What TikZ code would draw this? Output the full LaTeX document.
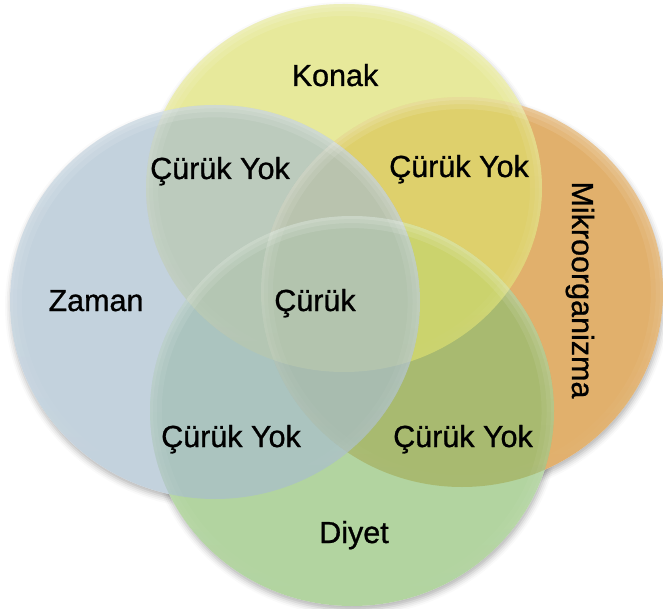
\documentclass[tikz,border=0pt]{standalone}
\usepackage{fontspec}
\setmainfont{Liberation Sans}
\newfontfamily\lblfont{Liberation Sans}[FakeBold=0.9]
\usetikzlibrary{fadings,shadows.blur}

\definecolor{konakC}{RGB}{221,224,109}
\definecolor{mikroC}{RGB}{212,139,39}
\definecolor{diyetC}{RGB}{142,192,115}
\definecolor{zamanC}{RGB}{168,189,206}

\begin{document}
\begin{tikzpicture}[x=1pt,y=-1pt,
  lbl/.style={font=\lblfont\fontsize{30.5}{36}\selectfont, text=black, inner sep=0pt, anchor=base},
  disc/.style={fill=#1, fill opacity=0.68},
  rim/.style={draw=white, draw opacity=0.12, path fading=south},
  shade/.style={blur shadow={shadow xshift=1pt, shadow yshift=-4pt, shadow blur radius=6pt, shadow opacity=30}},
  kshape/.style={x radius=198pt, y radius=184pt},
  mshape/.style={x radius=201pt, y radius=195pt},
  dshape/.style={x radius=202pt, y radius=195pt},
  zshape/.style={x radius=205pt, y radius=197pt}]
\useasboundingbox (0,0) rectangle (663,609);
\begin{scope}
\clip (0,0) rectangle (663,609);

% circle centres
\coordinate (k) at (344,188);
\coordinate (m) at (462,292);
\coordinate (d) at (352,411);
\coordinate (z) at (215,302);

% soft shadows, then a white base so they only show outside the discs
\path[shade] (m) ellipse [mshape];
\path[shade] (d) ellipse [dshape];
\path[shade] (k) ellipse [kshape];
\path[shade] (z) ellipse [zshape];
\fill[white] (m) ellipse [mshape];
\fill[white] (d) ellipse [dshape];
\fill[white] (k) ellipse [kshape];
\fill[white] (z) ellipse [zshape];

% translucent discs
\fill[disc=mikroC] (m) ellipse [mshape];
\fill[disc=diyetC] (d) ellipse [dshape];
\fill[disc=konakC] (k) ellipse [kshape];
\fill[disc=zamanC] (z) ellipse [zshape];

% light rims along the upper edges
\begin{scope}
  \clip (m) ellipse [mshape];
  \draw[rim, line width=24pt] (m) ellipse [mshape];
  \draw[rim, line width=14pt] (m) ellipse [mshape];
  \draw[rim, line width=6pt] (m) ellipse [mshape];
\end{scope}
\begin{scope}
  \clip (d) ellipse [dshape];
  \draw[rim, line width=24pt] (d) ellipse [dshape];
  \draw[rim, line width=14pt] (d) ellipse [dshape];
  \draw[rim, line width=6pt] (d) ellipse [dshape];
\end{scope}
\begin{scope}
  \clip (k) ellipse [kshape];
  \draw[rim, line width=24pt] (k) ellipse [kshape];
  \draw[rim, line width=14pt] (k) ellipse [kshape];
  \draw[rim, line width=6pt] (k) ellipse [kshape];
\end{scope}
\begin{scope}
  \clip (z) ellipse [zshape];
  \draw[rim, line width=24pt] (z) ellipse [zshape];
  \draw[rim, line width=14pt] (z) ellipse [zshape];
  \draw[rim, line width=6pt] (z) ellipse [zshape];
\end{scope}
\end{scope}

% labels
\node[lbl] (konak) at (335,86) {Konak};
\node[lbl] (zaman) at (96,311) {Zaman};
\node[lbl] (diyet) at (354,543) {Diyet};
\node[lbl, rotate=-90] (mikro) at (572,290) {Mikroorganizma};
\node[lbl] (kz) at (220,179) {Çürük Yok};
\node[lbl] (km) at (459,177) {Çürük Yok};
\node[lbl] (zd) at (231,447) {Çürük Yok};
\node[lbl] (md) at (463,447) {Çürük Yok};
\node[lbl] (all) at (315,311) {Çürük};
\end{tikzpicture}
\end{document}
